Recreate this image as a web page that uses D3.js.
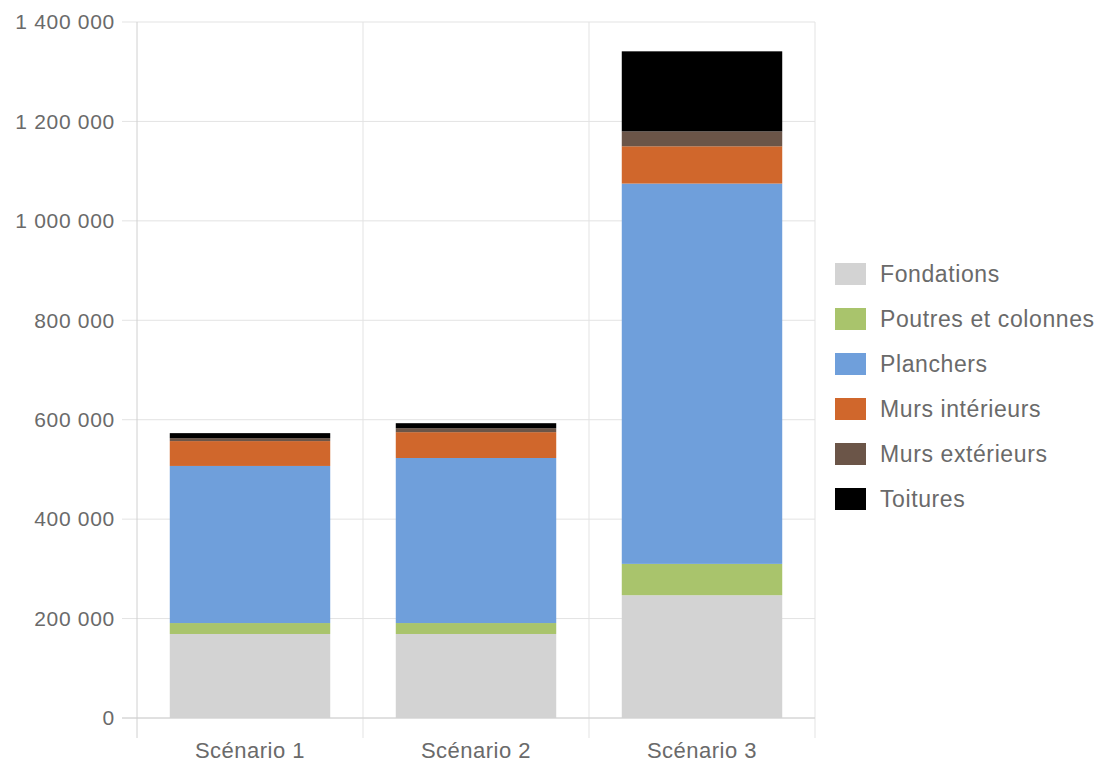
<!DOCTYPE html>
<html>
<head>
<meta charset="utf-8">
<script src="https://cdn.jsdelivr.net/npm/d3@7"></script>
<style>
  body { margin: 0; background: #fff; }
  svg { font-family: "Liberation Sans", Arial, sans-serif; }
</style>
</head>
<body>
<svg id="svg1" width="1106" height="771"></svg>
<script>
// data
var scenarios = ['Scénario 1', 'Scénario 2', 'Scénario 3'];
var seriesNames = ['Fondations', 'Poutres et colonnes', 'Planchers', 'Murs intérieurs', 'Murs extérieurs', 'Toitures'];
var fondations = [169000, 169000, 247000];
var poutres = [22000, 22000, 63000];
var planchers = [316000, 332000, 765000];
var mursInt = [50000, 52000, 75000];
var mursExt = [6000, 8000, 30000];
var toitures = [10000, 10000, 161000];
var yTicks = [0, 200000, 400000, 600000, 800000, 1000000, 1200000, 1400000];
var colors = ['#d3d3d3', '#a9c46c', '#6f9fdb', '#d0672c', '#6b5548', '#000000'];

var allSeries = [fondations, poutres, planchers, mursInt, mursExt, toitures];

// rows for d3.stack
var rows = scenarios.map(function(s, i) {
    var r = {scenario: s};
    seriesNames.forEach(function(n, j) { r[n] = allSeries[j][i]; });
    return r;
});

var svg = d3.select('svg');

var x = d3.scaleBand()
    .domain(scenarios)
    .range([137, 815])
    .paddingInner(0.29)
    .paddingOuter(0.145);

var y = d3.scaleLinear()
    .domain([0, 1400000])
    .range([718, 22]);

var fmt = function(v) {
    return d3.format(',')(v).replace(/,/g, ' ');
};

// horizontal grid
svg.append('g')
    .selectAll('line')
    .data(yTicks)
    .enter()
    .append('line')
    .attr('x1', 122)
    .attr('x2', 815)
    .attr('y1', function(d) { return y(d); })
    .attr('y2', function(d) { return y(d); })
    .attr('stroke', '#e3e3e3')
    .attr('stroke-width', 1);

// vertical grid at band boundaries
var bounds = [137, 137 + x.step(), 137 + 2 * x.step(), 815];
svg.append('g')
    .selectAll('line')
    .data(bounds)
    .enter()
    .append('line')
    .attr('x1', function(d) { return d; })
    .attr('x2', function(d) { return d; })
    .attr('y1', 22)
    .attr('y2', 738)
    .attr('stroke', function(d, i) { return i == 0 ? '#d0d0d0' : '#e3e3e3'; })
    .attr('stroke-width', 1);

// bars
var stack = d3.stack().keys(seriesNames);
var layers = stack(rows);

svg.append('g')
    .selectAll('g')
    .data(layers)
    .enter()
    .append('g')
    .attr('fill', function(d, i) { return colors[i]; })
    .selectAll('rect')
    .data(function(d) { return d; })
    .enter()
    .append('rect')
    .attr('x', function(d) { return x(d.data.scenario); })
    .attr('width', x.bandwidth())
    .attr('y', function(d) { return y(d[1]); })
    .attr('height', function(d) { return y(d[0]) - y(d[1]); });

// x axis line
svg.append('line')
    .attr('x1', 122).attr('x2', 815)
    .attr('y1', y(0)).attr('y2', y(0))
    .attr('stroke', '#d0d0d0');

// y axis labels
var yAxis = d3.axisLeft(y)
    .tickValues(yTicks)
    .tickFormat(fmt)
    .tickSize(0)
    .tickPadding(22);

var ya = svg.append('g')
    .attr('transform', 'translate(137,0)')
    .call(yAxis);
ya.select('.domain').remove();
ya.selectAll('text')
    .attr('fill', '#6a6a6a')
    .style('font-size', '21px')
    .style('letter-spacing', '0.7px')
    .style('font-family', '"Liberation Sans", Arial, sans-serif');

// x axis labels
var xAxis = d3.axisBottom(x).tickSize(0).tickPadding(24);
var xa = svg.append('g')
    .attr('transform', 'translate(0,' + y(0) + ')')
    .call(xAxis);
xa.select('.domain').remove();
xa.selectAll('text')
    .attr('fill', '#6a6a6a')
    .style('font-size', '22px')
    .style('letter-spacing', '0.5px')
    .style('font-family', '"Liberation Sans", Arial, sans-serif');

// legend
var legend = svg.append('g')
    .selectAll('g')
    .data(seriesNames)
    .enter()
    .append('g')
    .attr('transform', function(d, i) { return 'translate(835,' + (274 + i * 45) + ')'; });

legend.append('rect')
    .attr('x', 0).attr('y', -11)
    .attr('width', 31).attr('height', 22)
    .attr('fill', function(d, i) { return colors[i]; });

legend.append('text')
    .attr('x', 45)
    .attr('y', 0)
    .attr('dy', '0.35em')
    .attr('fill', '#6a6a6a')
    .style('font-size', '23px')
    .style('letter-spacing', '0.6px')
    .text(function(d) { return d; });
</script>
</body>
</html>
